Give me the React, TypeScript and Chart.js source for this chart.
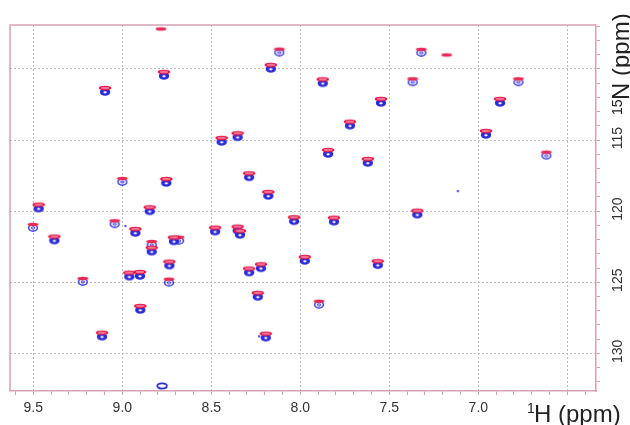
import { useEffect, useRef } from 'react';
import { Chart, registerables } from 'chart.js';

Chart.register(...registerables);

// Cross-peaks (1H ppm, 15N ppm)
const strongH = [8.166, 8.766, 9.097, 7.874, 8.442, 8.352, 8.753, 8.288, 8.18, 9.47, 8.846, 8.035, 7.547, 6.878, 7.721, 6.957, 7.844, 7.621, 7.343, 7.811, 9.382, 8.927, 8.835, 8.71, 8.736, 8.961, 8.901, 8.479, 8.352, 8.339, 8.288, 8.221, 7.975, 8.239, 8.899, 9.114, 8.194, 7.565];
const strongN = [110.0, 110.49, 111.62, 111.01, 115.13, 114.8, 118.02, 117.62, 118.93, 119.82, 120.01, 120.71, 112.39, 112.39, 113.99, 114.64, 115.98, 116.61, 120.25, 120.74, 122.07, 121.53, 122.85, 122.13, 123.83, 124.61, 124.56, 121.44, 121.37, 121.67, 124.32, 124.02, 123.5, 126.03, 126.95, 128.83, 128.9, 123.8];

const weakH = [8.118, 9.0, 7.32, 7.369, 6.775, 6.618, 9.502, 9.043, 8.835, 8.681, 8.738, 9.222, 7.895];
const weakN = [108.85, 117.95, 108.87, 110.94, 110.94, 116.1, 121.18, 120.92, 122.38, 122.08, 125.03, 124.98, 126.58];

// peaks seen in only one of the two spectra
const redOnlyH = [8.783, 7.178];
const redOnlyN = [107.43, 109.26];
const blueOnlyH = [8.777];
const blueOnlyN = [132.29];
const blueDotH = [7.116, 8.983, 8.232];
const blueDotN = [118.58, 121.04, 128.8];

// axis ticks
const xLabelTicks = [9.5, 9.0, 8.5, 8.0, 7.5, 7.0];
const yLabelTicks = [115, 120, 125, 130];
const xRange = [6.339, 9.631];
const yRange = [106.91, 132.65];

const FONT = '"Liberation Sans", Arial, sans-serif';
const PINK = '#d9a1b2';
const GRID = '#bdbdbd';
const BLUE = '#2b2bd9';
const RED = '#e3174b';

function marker(w: number, h: number, draw: (c: CanvasRenderingContext2D) => void) {
  const cv = document.createElement('canvas');
  cv.width = w;
  cv.height = h;
  const c = cv.getContext('2d') as CanvasRenderingContext2D;
  draw(c);
  return cv;
}

function ell(c: CanvasRenderingContext2D, x: number, y: number, rx: number, ry: number) {
  c.beginPath();
  c.ellipse(x, y, rx, ry, 0, 0, Math.PI * 2);
}

const pts = (xs: number[], ys: number[]) => xs.map((x, i) => ({ x, y: ys[i] }));
const isMult = (v: number, m: number) => Math.abs(v / m - Math.round(v / m)) < 1e-6;

export default function App() {
  const ref = useRef<HTMLCanvasElement | null>(null);

  useEffect(() => {
    if (!ref.current) return;

    const blueStrong = marker(12, 10, (c) => {
      c.fillStyle = BLUE;
      ell(c, 6, 5, 5.2, 3.8);
      c.fill();
      c.fillStyle = '#ffffff';
      ell(c, 6, 5.3, 1.7, 1.1);
      c.fill();
    });
    const blueWeak = marker(12, 10, (c) => {
      c.strokeStyle = '#3b3be0';
      c.lineWidth = 1.5;
      ell(c, 6, 5, 4.4, 3.2);
      c.stroke();
      c.lineWidth = 1;
      ell(c, 6, 5, 1.7, 1.1);
      c.stroke();
    });
    const blueWide = marker(14, 10, (c) => {
      c.strokeStyle = BLUE;
      c.lineWidth = 1.8;
      ell(c, 7, 5, 4.8, 2.6);
      c.stroke();
    });
    const blueDot = marker(4, 4, (c) => {
      c.fillStyle = '#5a5ae0';
      c.fillRect(1, 1, 2.2, 2.2);
    });
    const redStrong = marker(14, 16, (c) => {
      c.fillStyle = RED;
      ell(c, 7, 4, 6.3, 2.3);
      c.fill();
      c.strokeStyle = 'rgba(255,170,190,0.9)';
      c.lineWidth = 0.8;
      ell(c, 7, 4, 3.8, 0.7);
      c.stroke();
    });
    const redWeak = marker(14, 16, (c) => {
      c.fillStyle = '#e82a58';
      ell(c, 7, 4.5, 5.5, 1.8);
      c.fill();
    });

    const frame = {
      id: 'frame',
      afterDraw(chart: any) {
        const { ctx, chartArea: a } = chart;
        ctx.save();
        ctx.strokeStyle = PINK;
        ctx.lineWidth = 1.5;
        ctx.beginPath();
        ctx.moveTo(a.left, a.bottom);
        ctx.lineTo(a.left, a.top);
        ctx.lineTo(a.right, a.top);
        ctx.stroke();

        // axis titles
        ctx.fillStyle = '#222';
        ctx.textAlign = 'left';
        ctx.textBaseline = 'alphabetic';
        const bx = a.right - 69;
        const by = a.bottom + 30.7;
        ctx.font = `14px ${FONT}`;
        ctx.fillText('1', bx, by - 9);
        ctx.font = `24px ${FONT}`;
        ctx.fillText('H (ppm)', bx + 7, by);

        ctx.translate(chart.width - 1, 115);
        ctx.rotate(-Math.PI / 2);
        ctx.font = `14px ${FONT}`;
        ctx.fillText('15', 0, -7);
        ctx.font = `24px ${FONT}`;
        ctx.fillText('N (ppm)', 15, 0);
        ctx.restore();
      },
    };

    const chart = new Chart(ref.current, {
      type: 'scatter',
      data: {
        datasets: [
          { label: 'red', data: pts(strongH, strongN), pointStyle: redStrong as any, order: 0 },
          { label: 'red weak', data: pts(weakH, weakN), pointStyle: redWeak as any, order: 0 },
          { label: 'red only', data: pts(redOnlyH, redOnlyN), pointStyle: redWeak as any, order: 0 },
          { label: 'blue', data: pts(strongH, strongN), pointStyle: blueStrong as any, order: 1 },
          { label: 'blue weak', data: pts(weakH, weakN), pointStyle: blueWeak as any, order: 1 },
          { label: 'blue only', data: pts(blueOnlyH, blueOnlyN), pointStyle: blueWide as any, order: 1 },
          { label: 'blue dots', data: pts(blueDotH, blueDotN), pointStyle: blueDot as any, order: 1 },
        ].map((d) => ({ ...d, pointRadius: 3, clip: false as any })),
      },
      options: {
        animation: false,
        responsive: false,
        events: [],
        layout: { padding: { left: 10, top: 25, right: 0, bottom: 0 } },
        plugins: { legend: { display: false }, tooltip: { enabled: false } },
        scales: {
          x: {
            type: 'linear',
            position: 'bottom',
            reverse: true,
            min: xRange[0],
            max: xRange[1],
            afterFit: (s: any) => {
              s.height = 34;
            },
            ticks: {
              stepSize: 0.1,
              autoSkip: false,
              includeBounds: false,
              minRotation: 0,
              maxRotation: 0,
              padding: 5,
              color: '#333',
              font: { size: 14, family: FONT },
              callback: (v: any) => {
                const r = Math.round(Number(v) * 10) / 10;
                return xLabelTicks.includes(r) ? r.toFixed(1) : '';
              },
            },
            grid: {
              color: (ctx: any) => (ctx.tick && isMult(ctx.tick.value, 0.5) ? GRID : 'transparent'),
              lineWidth: 1,
              tickLength: 4,
              tickColor: PINK,
              tickWidth: 1,
            },
            border: { display: true, color: PINK, width: 1.5, dash: [2, 2] },
          },
          y: {
            type: 'linear',
            position: 'right',
            reverse: true,
            min: yRange[0],
            max: yRange[1],
            afterFit: (s: any) => {
              s.width = 34;
            },
            ticks: {
              stepSize: 1,
              autoSkip: false,
              includeBounds: false,
              minRotation: 90,
              maxRotation: 90,
              crossAlign: 'center',
              padding: 6,
              labelOffset: -2,
              color: '#333',
              font: { size: 14, family: FONT },
              callback: (v: any) => {
                const r = Math.round(Number(v));
                return yLabelTicks.includes(r) ? String(r) : '';
              },
            },
            grid: {
              color: (ctx: any) => (ctx.tick && isMult(ctx.tick.value, 5) ? GRID : 'transparent'),
              lineWidth: 1,
              tickLength: 4,
              tickColor: PINK,
              tickWidth: 1,
            },
            border: { display: true, color: PINK, width: 1.5, dash: [2, 2] },
          },
        },
      } as any,
      plugins: [frame],
    });

    return () => chart.destroy();
  }, []);

  return (
    <div style={{ position: 'absolute', left: 0, top: 0, width: 630, height: 425, background: '#fff' }}>
      <canvas ref={ref} width={630} height={425} />
    </div>
  );
}
